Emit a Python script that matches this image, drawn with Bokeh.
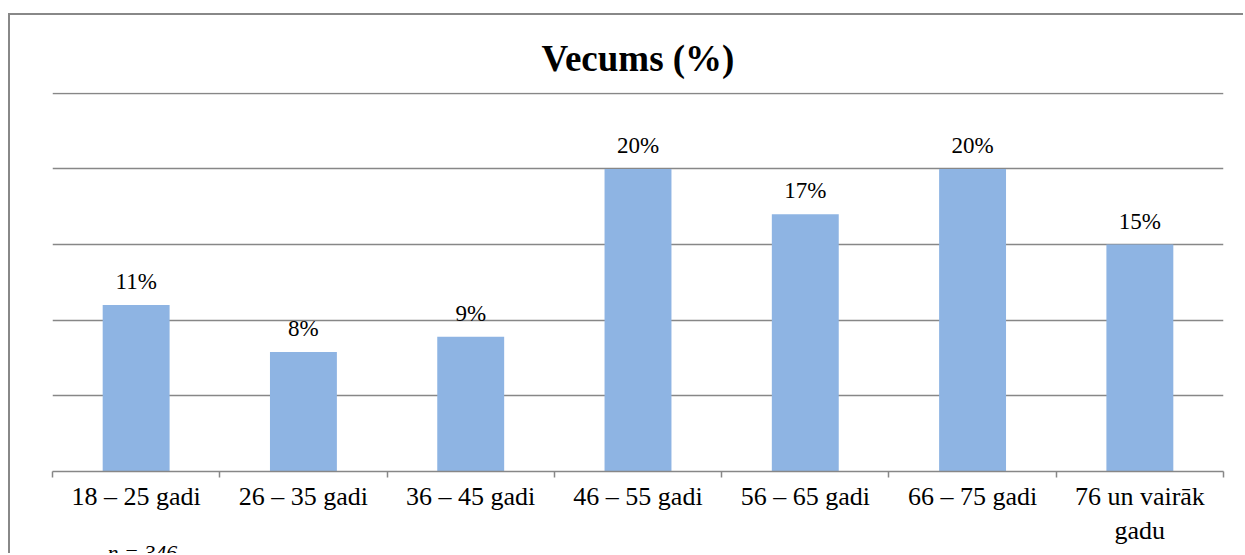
from bokeh.plotting import figure
from bokeh.models import ColumnDataSource, LabelSet, FixedTicker, Title
from bokeh.embed import file_html
from bokeh.resources import INLINE

categories = ["18 – 25 gadi", "26 – 35 gadi", "36 – 45 gadi", "46 – 55 gadi",
              "56 – 65 gadi", "66 – 75 gadi", "76 un vairāk\ngadu"]
values = [11.0, 7.9, 8.9, 20.0, 17.0, 20.0, 15.0]
labels = ["11%", "8%", "9%", "20%", "17%", "20%", "15%"]
y_ticks = [0, 5, 10, 15, 20, 25]
note = "n = 346"

SERIF = "Liberation Serif"
GRAY = "#878787"

xpos = [i + 0.5 for i in range(len(categories))]
src = ColumnDataSource(dict(x=xpos, val=values, lab=labels))

p = figure(x_range=(0, len(categories)), y_range=(0, 25.05), width=1235, height=540,
           output_backend="svg", toolbar_location=None,
           min_border_left=42, min_border_right=22, min_border_top=77, min_border_bottom=84)
p.styles = {"margin-left": "8px", "margin-top": "13px",
            "border-left": "2px solid #888888", "border-top": "2px solid #888888"}

p.title.text = "Vecums (%)"
p.title.align = "center"
p.title.text_font = SERIF
p.title.text_font_size = "37px"
p.title.text_font_style = "bold"
p.title.text_color = "black"
p.title.standoff = 28

p.vbar(x="x", top="val", width=0.4, source=src, fill_color="#8EB4E3", line_color=None)

p.add_layout(LabelSet(x="x", y="val", text="lab", source=src, y_offset=16,
                      text_align="center", text_baseline="alphabetic",
                      text_font=SERIF, text_font_size="23px", text_color="black"))

p.yaxis.visible = False
p.ygrid.ticker = FixedTicker(ticks=y_ticks)
p.ygrid.grid_line_color = GRAY
p.ygrid.grid_line_width = 1.5
p.xgrid.grid_line_color = None
p.outline_line_color = None

ax = p.xaxis[0]
ax.ticker = FixedTicker(ticks=xpos, minor_ticks=list(range(len(categories) + 1)))
ax.major_label_overrides = {x: c for x, c in zip(xpos, categories)}
ax.axis_line_color = GRAY
ax.axis_line_width = 1.5
ax.major_tick_line_color = None
ax.major_tick_in = 0
ax.major_tick_out = 0
ax.minor_tick_line_color = GRAY
ax.minor_tick_line_width = 1.5
ax.minor_tick_in = 0
ax.minor_tick_out = 6
ax.major_label_text_font = SERIF
ax.major_label_text_font_size = "26px"
ax.major_label_text_color = "black"
ax.major_label_standoff = 4

p.add_layout(Title(text=note, align="left", offset=55, standoff=-22,
                   text_font=SERIF, text_font_style="italic", text_font_size="22px",
                   text_color="black"), "below")

open("out.html", "w").write(file_html(p, INLINE))
